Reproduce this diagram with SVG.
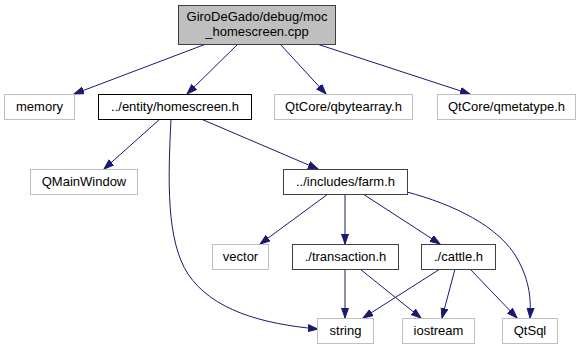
<svg xmlns="http://www.w3.org/2000/svg" width="581" height="351" viewBox="0 0 581 351">
  <style>
    .bg { fill: #ffffff; }
    .node rect { fill: #ffffff; stroke-width: 1; }
    .ext rect { stroke: #bfbfbf; }
    .doc rect { stroke: #404040; }
    .root rect { fill: #bfbfbf; stroke: #404040; }
    .node text { font-family: "Liberation Sans", Arial, sans-serif; font-size: 13px; fill: #000000; text-anchor: middle; }
    .edges path { fill: none; stroke: #191970; stroke-width: 1; marker-end: url(#arrow); }
  </style>
  <defs>
    <marker id="arrow" markerUnits="userSpaceOnUse" markerWidth="12" markerHeight="9" refX="10" refY="4" orient="auto">
      <path d="M0,0.5 L10,4 L0,7.5 Z" fill="#191970" stroke="#191970" stroke-width="1"/>
    </marker>
  </defs>
  <rect class="bg" x="0" y="0" width="581" height="351"/>

  <!-- include relations -->
  <g id="edges" class="edges">
    <path d="M206,44 L74,94"/>
    <path d="M238,44 L187,94"/>
    <path d="M280,44 L326,94"/>
    <path d="M317,44 L470,94"/>
    <path d="M160,119 L104,169"/>
    <path d="M171,119 C168,180 166,240 188,274 C212,310 262,324 318,329"/>
    <path d="M201,119 L318,169"/>
    <path d="M328,194 L260,244"/>
    <path d="M345,194 L345,244"/>
    <path d="M363,194 L440,244"/>
    <path d="M407,192 C452,204 500,226 518,260 C530,282 531,300 530,318"/>
    <path d="M345,269 L345,318"/>
    <path d="M360,269 L421,318"/>
    <path d="M440,269 L363,318"/>
    <path d="M455,269 L442,318"/>
    <path d="M470,269 L517,318"/>
  </g>

  <g id="node-root" class="node root">
    <rect x="178.5" y="5.5" width="157" height="39"/>
    <text x="257" y="21">GiroDeGado/debug/moc</text>
    <text x="257" y="36">_homescreen.cpp</text>
  </g>
  <g id="node-memory" class="node ext">
    <rect x="4.5" y="94.5" width="70" height="25"/>
    <text x="39.5" y="111">memory</text>
  </g>
  <g id="node-homescreen" class="node doc">
    <rect x="98.5" y="94.5" width="153" height="25" style="stroke:#000000"/>
    <text x="175" y="111">../entity/homescreen.h</text>
  </g>
  <g id="node-qbytearray" class="node ext">
    <rect x="274.5" y="94.5" width="138" height="25"/>
    <text x="343.5" y="111">QtCore/qbytearray.h</text>
  </g>
  <g id="node-qmetatype" class="node ext">
    <rect x="437.5" y="94.5" width="138" height="25"/>
    <text x="506.5" y="111">QtCore/qmetatype.h</text>
  </g>
  <g id="node-qmainwindow" class="node ext">
    <rect x="30.5" y="169.5" width="107" height="25"/>
    <text x="84" y="186">QMainWindow</text>
  </g>
  <g id="node-farm" class="node doc">
    <rect x="283.5" y="169.5" width="124" height="25"/>
    <text x="345.5" y="186">../includes/farm.h</text>
  </g>
  <g id="node-vector" class="node ext">
    <rect x="212.5" y="244.5" width="56" height="25"/>
    <text x="240.5" y="261">vector</text>
  </g>
  <g id="node-transaction" class="node doc">
    <rect x="292.5" y="244.5" width="106" height="25"/>
    <text x="345.5" y="261">./transaction.h</text>
  </g>
  <g id="node-cattle" class="node doc">
    <rect x="421.5" y="244.5" width="74" height="25"/>
    <text x="458.5" y="261">./cattle.h</text>
  </g>
  <g id="node-string" class="node ext">
    <rect x="317.5" y="318.5" width="56" height="25"/>
    <text x="345.5" y="335">string</text>
  </g>
  <g id="node-iostream" class="node ext">
    <rect x="402.5" y="318.5" width="72" height="25"/>
    <text x="438.5" y="335">iostream</text>
  </g>
  <g id="node-qtsql" class="node ext">
    <rect x="502.5" y="318.5" width="55" height="25"/>
    <text x="530" y="335">QtSql</text>
  </g>
</svg>
